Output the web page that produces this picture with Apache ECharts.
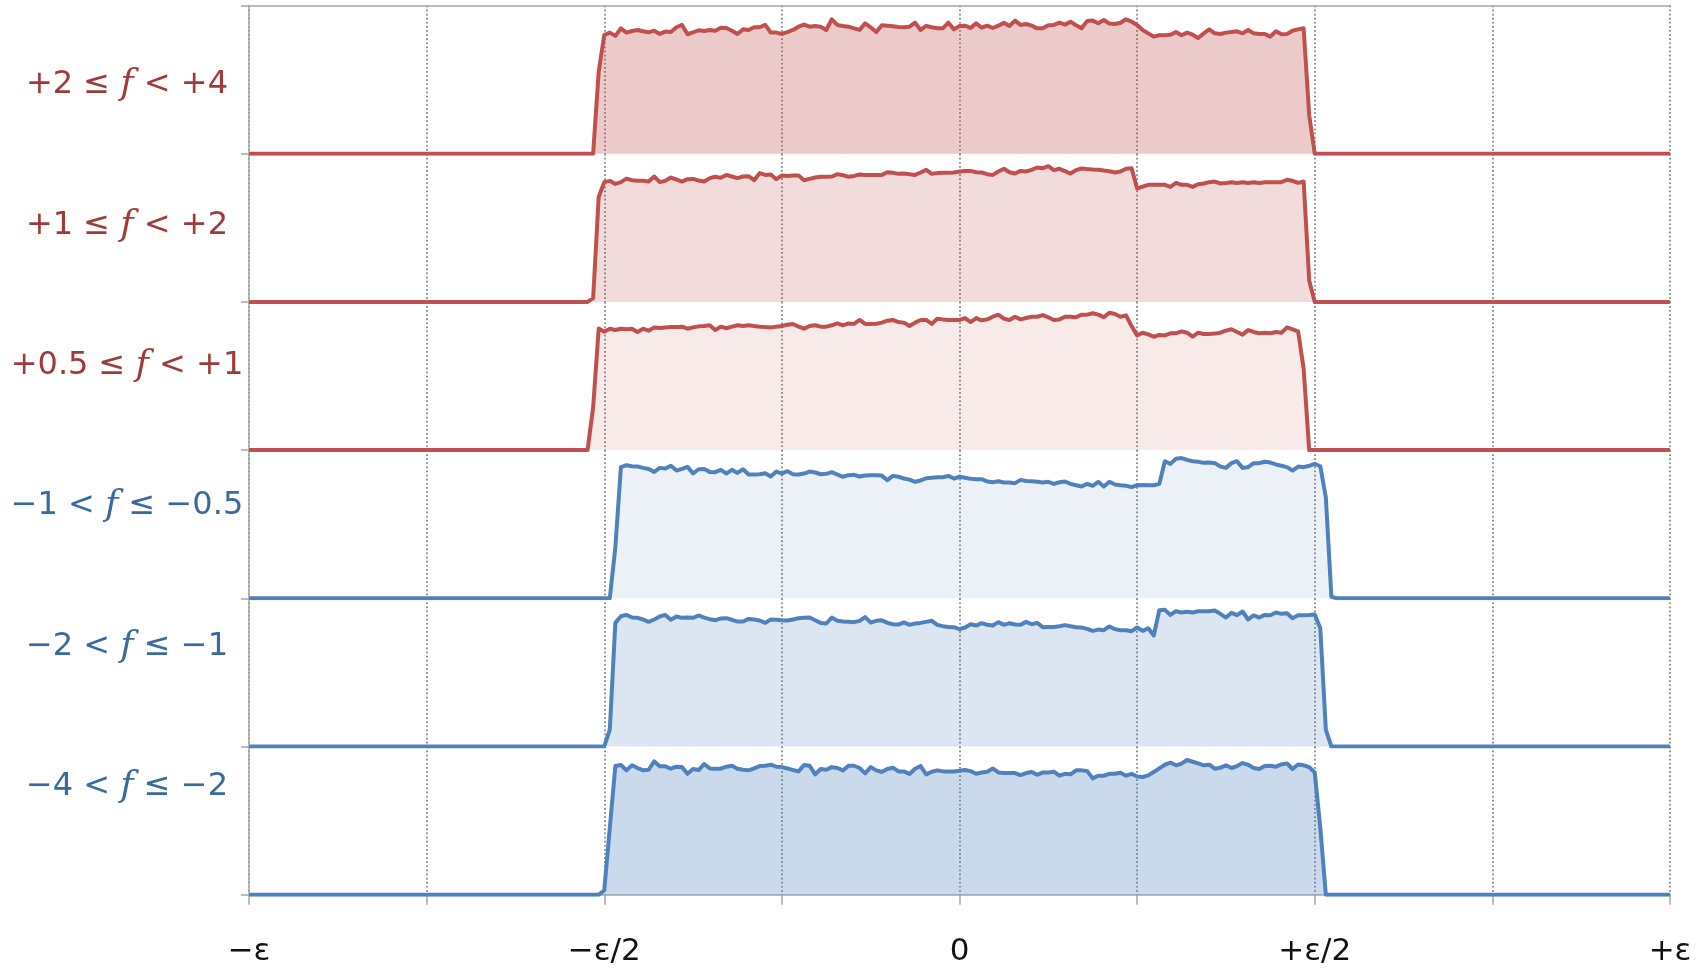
<!DOCTYPE html>
<html>
<head>
<meta charset="utf-8">
<script src="https://cdn.jsdelivr.net/npm/echarts@6/dist/echarts.min.js"></script>
<style>
  html, body { margin: 0; padding: 0; background: #ffffff; }
  #chart { position: absolute; left: 0; top: 0; width: 1707px; height: 968px; }
</style>
</head>
<body>
<div id="chart"></div>
<script>
// ---------------- data ----------------
// x axis in units of ε, from −ε to +ε
const xMin = -1, xMax = 1, xGridStep = 0.25;
const binWidth = 1 / 128;               // histogram bin width (ε/128)
const tickValues = [-1, -0.5, 0, 0.5, 1];
const tickLabels = ['\u2212\u03b5', '\u2212\u03b5/2', '0', '+\u03b5/2', '+\u03b5'];

const panelLabels = [
  '+2 \u2264 f < +4',
  '+1 \u2264 f < +2',
  '+0.5 \u2264 f < +1',
  '\u22121 < f \u2264 \u22120.5',
  '\u22122 < f \u2264 \u22121',
  '\u22124 < f \u2264 \u22122'
];

// x of the first listed bin of each panel (values are zero outside)
const panelStart = [-0.515625, -0.5234375, -0.5234375, -0.4921875, -0.5, -0.5078125];

const valsA = [0, 55.3,
  80.1, 81.7, 79.5, 84.6, 81.7, 82.8, 83.5, 82.6, 81.9, 83.0,
  80.8, 82.4, 82.1, 85.3, 86.9, 80.6, 81.9, 83.3, 82.8, 83.5,
  83.0, 85.0, 84.8, 83.0, 80.8, 83.9, 83.5, 85.3, 85.3, 86.9,
  81.7, 81.7, 80.8, 82.1, 83.5, 85.7, 87.1, 85.7, 86.2, 85.7,
  83.5, 90.7, 86.9, 86.2, 85.7, 84.6, 83.5, 88.0, 85.3, 82.1,
  86.6, 86.4, 86.0, 85.5, 85.3, 85.7, 88.4, 83.5, 86.2, 85.3,
  84.6, 84.6, 88.4, 83.9, 86.2, 86.4, 84.8, 88.0, 85.0, 86.4,
  84.8, 86.4, 88.4, 86.2, 89.8, 86.9, 87.5, 86.4, 84.6, 84.6,
  86.6, 86.9, 88.4, 87.1, 89.1, 86.6, 84.6, 89.6, 89.8, 88.0,
  90.2, 87.8, 87.5, 88.4, 90.7, 89.1, 86.9, 83.5, 81.2, 79.0,
  79.9, 79.9, 80.3, 82.1, 79.9, 81.7, 80.3, 78.1, 81.2, 83.9,
  81.2, 80.8, 81.7, 82.1, 82.6, 81.2, 83.5, 81.2, 80.8, 80.8,
  79.0, 82.6, 80.6, 80.8, 83.0, 83.9, 84.6,
  26, 0];

const valsB = [0, 2.6, 70.8,
  80.8, 81.7, 79.6, 80.8, 83.2, 82.1, 81.7, 81.7, 81.2, 84.6,
  80.8, 81.7, 83.9, 82.6, 81.2, 82.8, 83.0, 81.9, 81.2, 83.5,
  84.4, 83.7, 85.7, 84.6, 83.5, 84.6, 84.8, 82.1, 86.9, 85.7,
  86.0, 82.8, 85.3, 85.0, 85.3, 85.3, 82.1, 83.0, 83.9, 84.4,
  84.4, 84.6, 86.2, 85.5, 84.4, 85.0, 86.0, 85.7, 85.7, 85.7,
  85.7, 87.5, 87.1, 86.4, 86.6, 86.2, 85.7, 87.3, 89.1, 86.4,
  86.9, 87.1, 87.1, 87.3, 88.0, 88.4, 88.4, 87.5, 87.3, 86.2,
  85.7, 88.0, 89.8, 87.5, 86.6, 88.4, 88.0, 89.1, 90.7, 90.2,
  91.6, 88.9, 89.8, 88.2, 86.6, 88.9, 90.0, 89.6, 89.3, 89.1,
  88.6, 88.2, 87.3, 88.0, 89.8, 90.2, 76.5, 77.8, 79.0, 79.0,
  79.0, 79.0, 77.6, 80.3, 79.0, 79.0, 77.6, 79.4, 79.9, 80.8,
  81.2, 79.9, 80.3, 80.8, 80.3, 80.8, 80.3, 80.8, 80.3, 80.8,
  80.8, 80.8, 80.8, 82.4, 81.7, 80.3, 81.2,
  14.5, 0];

const valsC = [0, 29, 82,
  79.9, 81.9, 81.0, 81.9, 81.5, 81.9, 79.7, 81.9, 80.6, 82.8,
  82.4, 82.8, 83.0, 83.0, 83.3, 81.9, 82.8, 83.5, 83.7, 84.2,
  81.0, 83.3, 82.2, 83.3, 84.2, 83.7, 84.2, 83.7, 83.3, 83.0,
  82.8, 83.3, 83.7, 84.6, 85.1, 83.3, 81.9, 83.7, 84.2, 83.3,
  83.3, 84.2, 85.5, 84.2, 85.5, 85.1, 87.8, 85.1, 85.1, 85.3,
  86.0, 87.3, 87.8, 86.4, 86.0, 83.7, 86.0, 87.8, 87.8, 85.1,
  88.7, 88.2, 87.8, 87.8, 87.8, 89.1, 86.4, 89.1, 87.6, 88.2,
  90.0, 91.4, 88.7, 87.8, 90.0, 88.2, 89.1, 90.0, 90.0, 91.1,
  89.6, 87.8, 88.2, 90.0, 90.0, 89.6, 91.4, 91.4, 92.3, 91.4,
  89.6, 92.7, 91.8, 90.0, 90.9, 83.7, 77.4, 79.2, 78.1, 76.5,
  77.7, 77.4, 78.8, 78.8, 80.1, 79.2, 76.5, 79.2, 78.3, 78.3,
  78.6, 79.2, 80.6, 81.5, 79.7, 77.9, 81.0, 79.7, 78.8, 79.2,
  78.8, 79.7, 79.2, 82.8, 81.5, 80.1,
  55, 0];

const valsD = [0, 34.4,
  88.5, 89.8, 89.1, 88.9, 88.0, 87.3, 85.3,
  88.0, 87.6, 89.4, 86.2, 87.3, 88.7, 84.2, 87.1, 87.3, 85.3,
  85.1, 86.7, 84.2, 86.7, 84.6, 87.1, 83.5, 83.5, 83.7, 84.4,
  82.2, 85.5, 84.2, 85.8, 83.7, 83.5, 84.2, 85.5, 84.9, 83.7,
  84.0, 85.1, 83.5, 82.0, 83.1, 83.3, 82.2, 82.8, 83.1, 83.1,
  82.8, 79.7, 82.6, 82.0, 80.8, 80.1, 78.6, 79.5, 81.0, 81.3,
  81.7, 81.7, 82.6, 80.8, 82.0, 81.3, 80.6, 80.4, 80.4, 78.8,
  78.3, 79.0, 78.1, 78.1, 77.7, 79.9, 79.2, 79.0, 78.6, 78.1,
  78.6, 77.2, 78.3, 78.8, 77.2, 76.3, 75.4, 77.2, 75.9, 78.6,
  75.4, 78.6, 76.8, 76.3, 75.9, 75.0, 76.3, 76.5, 76.3, 76.3,
  77.2, 92.5, 90.7, 94.1, 94.6, 93.4, 92.5, 92.1, 91.4, 91.6,
  91.2, 88.9, 88.0, 91.2, 92.5, 88.0, 88.5, 91.2, 91.2, 92.1,
  91.6, 90.3, 89.4, 88.5, 86.2, 88.9, 88.5, 89.4, 90.7, 89.1,
  68, 1, 0];

const valsE = [0, 11.4, 83.4,
  87.9, 88.8, 87.0, 86.8, 85.7, 84.1, 85.7,
  87.7, 88.8, 85.5, 87.7, 86.8, 87.0, 86.8, 88.4, 87.0, 85.9,
  85.2, 86.4, 86.6, 85.5, 84.3, 84.3, 86.1, 85.7, 85.0, 83.4,
  85.7, 85.5, 85.2, 85.0, 85.7, 86.6, 86.8, 87.0, 85.2, 83.4,
  83.0, 87.0, 84.8, 84.3, 84.1, 83.9, 84.8, 87.3, 83.7, 84.8,
  85.2, 83.4, 82.5, 82.3, 83.7, 82.1, 83.0, 83.4, 84.1, 84.8,
  82.1, 81.2, 80.7, 80.5, 79.2, 80.3, 82.5, 81.6, 83.2, 82.1,
  81.6, 83.9, 82.1, 83.2, 82.3, 82.1, 84.1, 82.5, 83.4, 80.5,
  80.7, 80.7, 81.2, 81.9, 81.2, 80.5, 80.3, 79.4, 78.0, 78.9,
  78.5, 81.0, 79.2, 78.5, 78.5, 77.8, 80.3, 78.0, 79.8, 74.9,
  92.0, 92.2, 88.8, 91.3, 90.4, 90.9, 90.4, 91.3, 91.3, 91.3,
  91.8, 89.5, 87.0, 90.2, 88.6, 91.1, 85.7, 88.4, 87.0, 88.8,
  88.6, 90.4, 89.5, 89.9, 86.6, 88.6, 88.6, 88.8, 89.1, 79.8,
  11.2, 0];

const valsF = [0, 3, 45, 86.8,
  87.5, 83.9, 87.3, 85.5, 83.9, 84.3, 90.0,
  86.6, 86.6, 85.0, 86.4, 86.1, 81.6, 84.8, 84.1, 88.2, 85.2,
  85.0, 85.0, 86.4, 87.0, 85.0, 84.3, 83.9, 85.2, 86.8, 87.0,
  87.7, 86.4, 86.1, 85.2, 84.1, 83.2, 87.5, 87.0, 81.2, 84.8,
  84.3, 86.1, 85.5, 83.9, 87.0, 87.0, 85.5, 81.9, 86.1, 83.9,
  82.8, 84.8, 85.7, 83.2, 83.2, 81.4, 85.0, 86.8, 81.2, 83.0,
  83.9, 83.2, 83.2, 83.2, 83.7, 84.1, 83.4, 81.6, 82.5, 83.0,
  85.2, 82.5, 82.1, 82.1, 82.1, 80.7, 82.1, 82.8, 80.9, 82.5,
  82.5, 83.0, 80.3, 81.6, 81.2, 83.9, 83.9, 83.4, 78.5, 80.3,
  80.3, 81.6, 81.6, 82.3, 80.3, 81.6, 79.8, 79.4, 80.5, 82.8,
  85.2, 87.7, 89.1, 87.3, 88.4, 90.9, 89.7, 88.6, 87.3, 87.7,
  85.0, 85.7, 87.3, 85.5, 86.8, 88.8, 87.7, 85.5, 84.8, 86.8,
  87.0, 86.4, 87.9, 88.6, 84.8, 87.9, 87.3, 86.1, 82.5,
  45, 0];

const panelValues = [valsA, valsB, valsC, valsD, valsE, valsF];
const yMax = 100;

// ---------------- styles / layout ----------------
const RED = '#C0504D', BLUE = '#4F81BD';
const lineColors = [RED, RED, RED, BLUE, BLUE, BLUE];
const fillColors = [
  'rgba(192,80,77,0.30)', 'rgba(192,80,77,0.20)', 'rgba(192,80,77,0.12)',
  'rgba(79,129,189,0.11)', 'rgba(79,129,189,0.20)', 'rgba(79,129,189,0.30)'
];
const labelColors = ['#A03A39', '#A03A39', '#A03A39', '#3A68A0', '#3A68A0', '#3A68A0'];
const gridLeft = 249, gridRight = 37, gridTop = 5.5, panelH = 148.2;
const labelX = 127;
const labelY = [84.5, 225.5, 366, 506, 647, 787];
const GRAY = '#a6a6a6';

function buildData(start, vals) {
  const pts = [[xMin, 0]];
  vals.forEach((v, i) => pts.push([start + i * binWidth, v]));
  pts.push([xMax, 0]);
  return pts;
}

const grids = [], xAxes = [], yAxes = [], series = [], graphics = [];
for (let i = 0; i < 6; i++) {
  const isTop = i === 0, isBottom = i === 5;
  grids.push({ left: gridLeft, right: gridRight, top: gridTop + i * panelH, height: panelH });
  xAxes.push({
    type: 'value', gridIndex: i, min: xMin, max: xMax, interval: xGridStep,
    position: isTop ? 'top' : 'bottom',
    axisLine: { show: isTop || isBottom, onZero: false, lineStyle: { color: GRAY, width: 1.5 } },
    axisTick: { show: isBottom, length: 10, lineStyle: { color: GRAY, width: 1.5 } },
    axisLabel: {
      show: isBottom, margin: 42, fontFamily: 'DejaVu Sans', fontSize: 31, color: '#111',
      showMinLabel: true, showMaxLabel: true, hideOverlap: false,
      formatter: (v) => {
        const k = tickValues.findIndex(t => Math.abs(t - v) < 1e-9);
        return k >= 0 ? tickLabels[k] : '';
      }
    },
    splitLine: { show: true, lineStyle: { color: '#7f7f7f', width: 1.7, type: [1.7, 2.4] } }
  });
  yAxes.push({
    type: 'value', gridIndex: i, min: 0, max: yMax, interval: yMax,
    axisLine: { show: true, onZero: false, lineStyle: { color: GRAY, width: 1.5 } },
    axisTick: { show: true, length: 8, lineStyle: { color: GRAY, width: 1.5 } },
    axisLabel: { show: false },
    splitLine: { show: false }
  });
  series.push({
    type: 'line', xAxisIndex: i, yAxisIndex: i,
    data: buildData(panelStart[i], panelValues[i]),
    showSymbol: false, symbol: 'none', smooth: false,
    lineStyle: { color: lineColors[i], width: 4, join: 'round' },
    areaStyle: { color: fillColors[i], opacity: 1, origin: 'start' },
    z: 3
  });
  const parts = panelLabels[i].split(' f ');
  graphics.push({
    type: 'text', x: labelX, y: labelY[i],
    style: {
      text: '{a|' + parts[0] + ' }{f|f}{a| ' + parts[1] + '}',
      align: 'center', verticalAlign: 'middle',
      rich: {
        a: { fontFamily: 'DejaVu Sans', fontSize: 32, fill: labelColors[i], color: labelColors[i] },
        f: { fontFamily: 'DejaVu Serif', fontStyle: 'italic', fontSize: 36, fill: labelColors[i], color: labelColors[i] }
      }
    }
  });
}

const chart = echarts.init(document.getElementById('chart'), null, { renderer: 'canvas' });
chart.setOption({
  animation: false,
  backgroundColor: '#ffffff',
  grid: grids,
  xAxis: xAxes,
  yAxis: yAxes,
  series: series,
  graphic: graphics
});
</script>
</body>
</html>
